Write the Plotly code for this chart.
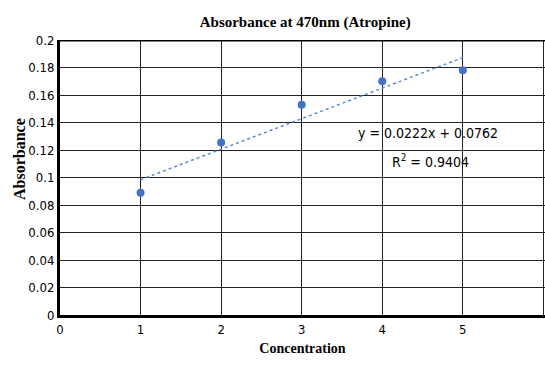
import plotly.graph_objects as go

concentration = [1, 2, 3, 4, 5]
absorbance = [0.089, 0.1255, 0.153, 0.170, 0.178]
fit_slope = 0.0222
fit_intercept = 0.0762
fit_r2 = 0.9404
x_ticks = [0, 1, 2, 3, 4, 5, 6]
y_ticks = [0, 0.02, 0.04, 0.06, 0.08, 0.1, 0.12, 0.14, 0.16, 0.18, 0.2]
y_tick_text = ["0", "0.02", "0.04", "0.06", "0.08", "0.1", "0.12", "0.14", "0.16", "0.18", "0.2"]

trend_x = [concentration[0], concentration[-1]]
trend_y = [fit_slope * v + fit_intercept for v in trend_x]

narrow = "DejaVu Sans Condensed, Liberation Sans Narrow, Liberation Sans, Arial"
serif = "Liberation Serif, Times New Roman, serif"

W, H = 545, 367
ML, MR, MT, MB = 60, 0, 40, 52
plot_w = W - ML - MR
plot_h = H - MT - MB

fig = go.Figure()
fig.add_trace(go.Scatter(x=trend_x, y=trend_y, mode="lines",
                         line=dict(color="#5B8BD6", width=1.5, dash="dot"),
                         showlegend=False, hoverinfo="skip"))
fig.add_trace(go.Scatter(x=concentration, y=absorbance, mode="markers",
                         marker=dict(color="#4472C4", size=8),
                         showlegend=False))

fig.add_annotation(x=4.57, y=0.1324, xref="x", yref="y",
                   text=f"y = {fit_slope}x + {fit_intercept}", showarrow=False,
                   font=dict(family=narrow, size=14, color="#000"))
fig.add_annotation(x=4.6, y=0.112, xref="x", yref="y",
                   text=f"R<sup>2</sup> = {fit_r2}", showarrow=False,
                   font=dict(family=narrow, size=14, color="#000"))

# y-axis title placed at pixel (19, 159)
fig.add_annotation(x=(19 - ML) / plot_w, y=(H - MB - 159) / plot_h,
                   xref="paper", yref="paper", xanchor="center", yanchor="middle",
                   text="<b>Absorbance</b>", showarrow=False, textangle=-90,
                   font=dict(family=serif, size=16, color="#000"))

# top border
fig.add_shape(type="line", xref="paper", yref="y", x0=0, x1=1, y0=0.2, y1=0.2,
              line=dict(color="#000", width=3))

fig.update_layout(
    width=W, height=H,
    margin=dict(l=ML, r=MR, t=MT, b=MB),
    paper_bgcolor="white", plot_bgcolor="white",
    title=dict(text="<b>Absorbance at 470nm (Atropine)</b>", x=0.56, xanchor="center",
               y=0.94, yanchor="middle",
               font=dict(family=serif, size=15, color="#000")),
    xaxis=dict(range=[0, 6.02], tickvals=x_ticks, ticktext=[str(v) for v in x_ticks],
               showgrid=True, gridcolor="#222", gridwidth=1,
               showline=True, linecolor="#000", linewidth=3, zeroline=False,
               ticks="", tickfont=dict(family=narrow, size=13, color="#000"),
               title=dict(text="<b>Concentration</b>", standoff=8,
                          font=dict(family=serif, size=14, color="#000"))),
    yaxis=dict(range=[0, 0.2], tickvals=y_ticks, ticktext=y_tick_text,
               showgrid=True, gridcolor="#222", gridwidth=1,
               showline=True, linecolor="#000", linewidth=3, zeroline=False,
               ticks="", tickfont=dict(family=narrow, size=13, color="#000")),
)

fig.write_html("out.html")
